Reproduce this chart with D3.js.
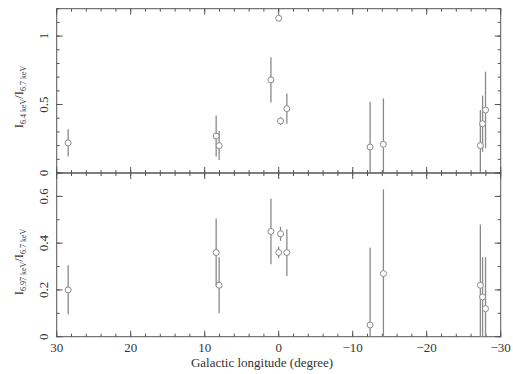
<!DOCTYPE html>
<html>
<head>
<meta charset="utf-8">
<script src="https://cdn.jsdelivr.net/npm/d3@7"></script>
<style>
  body { margin: 0; background: #fff; }
  text { font-family: "Liberation Serif", "Times New Roman", serif; fill: #333; }
</style>
</head>
<body>
<div id="chart"></div>
<script>
// galactic longitude of each field (degree)
const longitudes = [28.45, 8.45, 8.05, 1.05, 0.0, -0.25, -1.1, -12.35, -14.15, -27.25, -27.55, -27.95];

// I(6.4 keV) / I(6.7 keV)
const ratio64 = [0.22, 0.27, 0.20, 0.68, 1.13, 0.38, 0.47, 0.19, 0.21, 0.20, 0.36, 0.46];
const err64 = [0.10, 0.15, 0.105, 0.165, 0.02, 0.03, 0.11, 0.33, 0.335, 0.26, 0.205, 0.28];

// I(6.97 keV) / I(6.7 keV)
const ratio697 = [0.20, 0.36, 0.22, 0.45, 0.36, 0.44, 0.36, 0.05, 0.27, 0.22, 0.17, 0.12];
const err697 = [0.105, 0.145, 0.12, 0.14, 0.025, 0.03, 0.10, 0.33, 0.36, 0.26, 0.17, 0.22];

const xLabels = [30, 20, 10, 0, -10, -20, -30];
const topLabels = [0, 0.5, 1];
const bottomLabels = [0, 0.2, 0.4, 0.6];

const width = 513;
const height = 374;
const margin = { top: 8.7, left: 56.7, right: 12.3, bottom: 37.3 };
const mid = 173;

const svg = d3.select('#chart').append('svg')
  .attr('width', width)
  .attr('height', height);

const x = d3.scaleLinear().domain([30, -30]).range([margin.left, width - margin.right]);
const yTop = d3.scaleLinear().domain([0, 1.2]).range([mid, margin.top]);
const yBot = d3.scaleLinear().domain([0, 0.7]).range([height - margin.bottom, mid]);

const axisColor = '#555';
const dataColor = '#8a8a8a';

const xMinor = d3.range(-30, 31, 2);
const xMajor = d3.range(-30, 31, 10);

function drawPanel(y, minorStep, majorStep, labels, values, errs, title, titleY) {
  const [y0, y1] = y.domain();
  const top = y.range()[1];
  const bottom = y.range()[0];
  const yMinor = d3.range(y0, y1 + 1e-9, minorStep).map((v) => +v.toFixed(3));
  const yMajor = d3.range(y0, y1 + 1e-9, majorStep).map((v) => +v.toFixed(3));
  const g = svg.append('g');

  // frame
  g.append('rect')
    .attr('x', margin.left).attr('y', top)
    .attr('width', x.range()[1] - margin.left).attr('height', bottom - top)
    .attr('fill', 'none').attr('stroke', axisColor).attr('stroke-width', 1);

  // inward ticks on all four sides
  const ticks = g.append('g').attr('stroke', axisColor).attr('stroke-width', 1);
  [[xMinor, 3], [xMajor, 6]].forEach(([vals, len]) => {
    vals.forEach((v) => {
      ticks.append('line').attr('x1', x(v)).attr('x2', x(v)).attr('y1', bottom).attr('y2', bottom - len);
      ticks.append('line').attr('x1', x(v)).attr('x2', x(v)).attr('y1', top).attr('y2', top + len);
    });
  });
  [[yMinor, 3], [yMajor, 6]].forEach(([vals, len]) => {
    vals.forEach((v) => {
      ticks.append('line').attr('x1', margin.left).attr('x2', margin.left + len).attr('y1', y(v)).attr('y2', y(v));
      ticks.append('line').attr('x1', x.range()[1]).attr('x2', x.range()[1] - len).attr('y1', y(v)).attr('y2', y(v));
    });
  });

  // y tick labels, rotated
  g.selectAll('text.ylab')
    .data(labels)
    .join('text')
    .attr('class', 'ylab')
    .attr('text-anchor', 'middle')
    .attr('font-size', 13)
    .attr('transform', (d) => `translate(47.5,${y(d)}) rotate(-90)`)
    .text((d) => d3.format('~g')(d));

  // error bars
  g.selectAll('line.err')
    .data(longitudes)
    .join('line')
    .attr('class', 'err')
    .attr('x1', (d) => x(d)).attr('x2', (d) => x(d))
    .attr('y1', (d, i) => y(Math.min(y1, values[i] + errs[i])))
    .attr('y2', (d, i) => y(Math.max(y0, values[i] - errs[i])))
    .attr('stroke', dataColor)
    .attr('stroke-width', 1.3);

  // points
  g.selectAll('circle')
    .data(longitudes)
    .join('circle')
    .attr('cx', (d) => x(d))
    .attr('cy', (d, i) => y(values[i]))
    .attr('r', 3)
    .attr('fill', '#fff')
    .attr('stroke', dataColor)
    .attr('stroke-width', 1);

  // y title with subscripts
  const t = g.append('text')
    .attr('text-anchor', 'middle')
    .attr('font-size', 12.5)
    .attr('transform', `translate(23,${titleY}) rotate(-90)`);
  t.append('tspan').text('I');
  t.append('tspan').attr('font-size', 8).attr('dy', 3).text(title[0]);
  t.append('tspan').attr('dy', -3).text('/I');
  t.append('tspan').attr('font-size', 8).attr('dy', 3).text(title[1]);
}

drawPanel(yTop, 0.1, 0.5, topLabels, ratio64, err64, ['6.4 keV', '6.7 keV'], 97);
drawPanel(yBot, 0.1, 0.2, bottomLabels, ratio697, err697, ['6.97 keV', '6.7 keV'], 262);

// x tick labels
svg.selectAll('text.xlab')
  .data(xLabels)
  .join('text')
  .attr('class', 'xlab')
  .attr('text-anchor', 'middle')
  .attr('font-size', 13)
  .attr('x', (d) => x(d))
  .attr('y', 352)
  .text((d) => d3.format('d')(d));

svg.append('text')
  .attr('text-anchor', 'middle')
  .attr('font-size', 13)
  .attr('x', 262)
  .attr('y', 367)
  .text('Galactic longitude (degree)');
</script>
</body>
</html>
